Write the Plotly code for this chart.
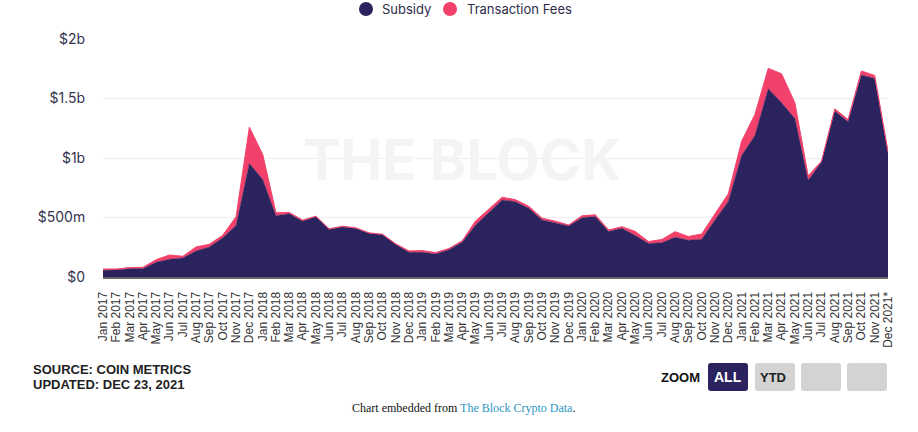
import plotly.graph_objects as go

months = ['Jan', 'Feb', 'Mar', 'Apr', 'May', 'Jun', 'Jul', 'Aug', 'Sep', 'Oct', 'Nov', 'Dec']
categories = [f'{m} {y}' for y in range(2017, 2022) for m in months]
categories[-1] = 'Dec 2021*'

subsidy = [56, 59, 70, 70, 124, 149, 160, 219, 253, 329, 433, 953,
           820, 514, 531, 469, 506, 399, 421, 407, 365, 354, 273, 207,
           207, 193, 230, 293, 437, 542, 648, 633, 577, 480, 457, 429,
           497, 508, 383, 409, 349, 281, 287, 335, 309, 318, 480, 635,
           1020, 1189, 1582, 1464, 1332, 812, 964, 1394, 1304, 1697, 1669, 1037]
fees = [11, 8, 9, 11, 22, 36, 14, 34, 22, 22, 73, 306,
        211, 26, 11, 9, 5, 6, 6, 6, 6, 6, 6, 12,
        15, 12, 9, 11, 34, 29, 22, 17, 17, 14, 12, 8,
        17, 15, 12, 14, 34, 17, 28, 46, 31, 44, 51, 65,
        121, 177, 171, 244, 132, 39, 8, 19, 19, 34, 25, 20]

y_ticks = [0, 500, 1000, 1500, 2000]
y_labels = ['$0', '$500m', '$1b', '$1.5b', '$2b']

NAVY = '#2a235e'
PINK = '#f2426b'
W, H = 918, 432
LEFT, RIGHT, TOP, BOTTOM = 103, 30, 39, 155
PLOT_W = W - LEFT - RIGHT
PLOT_H = H - TOP - BOTTOM


# paper coordinates are relative to the plot area, so convert from page pixels
def px_x(x):
    return (x - LEFT) / PLOT_W


def px_y(y):
    return 1 - (y - TOP) / PLOT_H


def button(x0, y0, x1, y1, color, r=3):
    """Rounded rectangle in page pixels."""
    a, b, c, d = px_x(x0), px_y(y0), px_x(x1), px_y(y1)
    rx, ry = r / PLOT_W, r / PLOT_H
    path = (f'M {a + rx} {b} L {c - rx} {b} Q {c} {b} {c} {b - ry} L {c} {d + ry} Q {c} {d} {c - rx} {d} '
            f'L {a + rx} {d} Q {a} {d} {a} {d + ry} L {a} {b - ry} Q {a} {b} {a + rx} {b} Z')
    return dict(type='path', xref='paper', yref='paper', path=path, fillcolor=color, line=dict(width=0))


def dot(cx, cy, color, r=7):
    """Legend circle in page pixels."""
    return dict(type='circle', xref='paper', yref='paper', fillcolor=color, line=dict(width=0),
                x0=px_x(cx - r), x1=px_x(cx + r), y0=px_y(cy + r), y1=px_y(cy - r))


def label(x, y, text, size, color, font='Liberation Sans', xanchor='center', align='center'):
    return dict(x=px_x(x), y=px_y(y), xref='paper', yref='paper', text=text, showarrow=False,
                xanchor=xanchor, yanchor='middle', align=align,
                font=dict(family=font, size=size, color=color))


fig = go.Figure()
fig.add_trace(go.Scatter(x=categories, y=subsidy, name='Subsidy', stackgroup='one', mode='lines',
                         line=dict(color=NAVY, width=0.5), fillcolor=NAVY))
fig.add_trace(go.Scatter(x=categories, y=fees, name='Transaction Fees', stackgroup='one', mode='lines',
                         line=dict(color=PINK, width=1), fillcolor=PINK))

fig.update_layout(
    width=W, height=H,
    margin=dict(l=LEFT, r=RIGHT, t=TOP, b=BOTTOM, autoexpand=False),
    plot_bgcolor='white', paper_bgcolor='white',
    showlegend=False,
    shapes=[
        dot(366, 9, NAVY),
        dot(450, 9, PINK),
        button(708, 363, 748, 391, NAVY),
        button(755, 363, 795, 391, '#d3d3d3'),
        button(801, 363, 841, 391, '#d3d3d3'),
        button(847, 363, 887, 391, '#d3d3d3'),
    ],
    annotations=[
        label(380, 9, 'Subsidy', 13, '#2d2d4a', font='Inter', xanchor='left'),
        label(465, 9, 'Transaction Fees', 13, '#2d2d4a', font='Inter', xanchor='left'),
        label(462, 160, '<b>THE BLOCK</b>', 56, '#f4f4f4', font='Inter'),
        label(31, 369, '<b>SOURCE: COIN METRICS</b>', 13, '#222222', xanchor='left', align='left'),
        label(31, 384, '<b>UPDATED: DEC 23, 2021</b>', 13, '#222222', xanchor='left', align='left'),
        label(680, 377, '<b>ZOOM</b>', 13, '#111111'),
        label(728, 377, '<b>ALL</b>', 14, 'white'),
        label(773, 377, '<b>YTD</b>', 13, '#222222'),
        label(463, 408, 'Chart embedded from <span style="color:#2b97c4">The Block Crypto Data</span>.',
              12, '#111111', font='Liberation Serif'),
    ],
)
fig.update_xaxes(type='category', range=[0, 59], tickangle=-90, tickmode='array',
                 tickvals=categories, ticktext=categories, showgrid=False,
                 showline=True, linecolor='#666666', linewidth=2,
                 ticks='outside', ticklen=8, tickcolor='rgba(0,0,0,0)',
                 tickfont=dict(family='Liberation Sans', size=12, color='#333333'))
fig.update_yaxes(range=[0, 2000], tickmode='array', tickvals=y_ticks, ticktext=y_labels,
                 gridcolor='#eeeeee', gridwidth=1, zeroline=False, showline=False,
                 ticks='outside', ticklen=14, tickcolor='rgba(0,0,0,0)',
                 tickfont=dict(family='Inter', size=14, color='#33334f'))

fig.write_html("out.html", config=dict(displayModeBar=False), post_script="document.body.style.margin='0';")
